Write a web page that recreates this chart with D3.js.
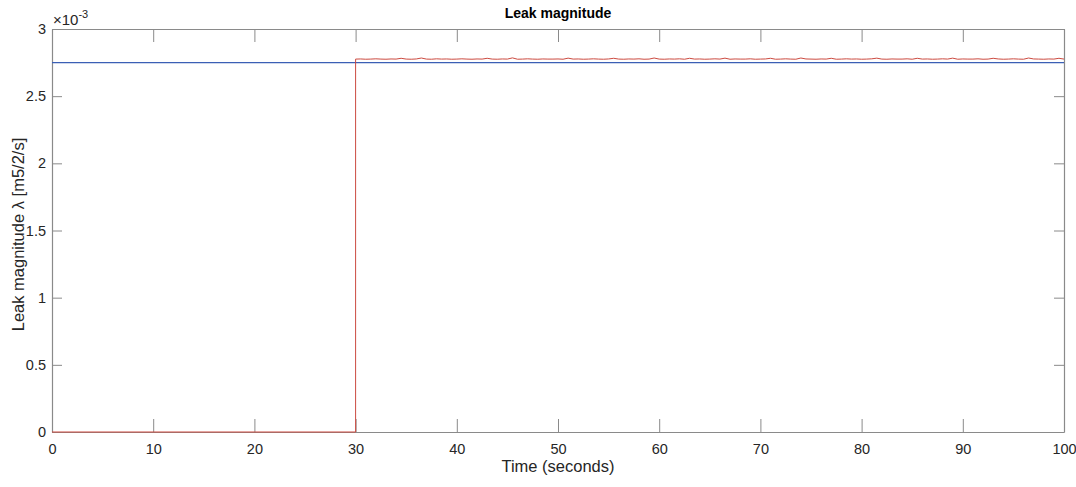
<!DOCTYPE html>
<html>
<head>
<meta charset="utf-8">
<script src="https://cdn.jsdelivr.net/npm/d3@7"></script>
<style>
  html, body { margin: 0; padding: 0; background: #fff; }
  svg { display: block; font-family: "Liberation Sans", Arial, sans-serif; }
</style>
</head>
<body>
<svg id="chart" width="1076" height="487"></svg>
<script>
// Axis ranges and tick labels
const xTicks = [0, 10, 20, 30, 40, 50, 60, 70, 80, 90, 100];
const yTicks = [0, 0.5, 1, 1.5, 2, 2.5, 3];          // in units of 1e-3
const yTickLabels = ["0", "0.5", "1", "1.5", "2", "2.5", "3"];

// True leak magnitude (constant reference), ×1e-3
const trueTime = [0, 100];
const trueValue = [2.75, 2.75];

// Estimated leak magnitude: zero until the leak starts at t = 30 s
const estStartTime = [0, 30];
const estStartValue = [0, 0];
// Estimate after the leak onset, sampled every 0.5 s from 30 s to 100 s, ×1e-3
const estStep = 0.5;
const estValues = [
  2.776,2.777,2.775,2.776,2.778,2.776,2.775,2.777,2.776,2.782,2.776,2.775,2.777,2.784,2.776,2.775,2.778,2.776,2.777,2.775,
  2.776,2.778,2.776,2.775,2.777,2.776,2.782,2.776,2.775,2.777,2.776,2.785,2.775,2.776,2.778,2.776,2.775,2.777,2.776,2.776,
  2.777,2.775,2.783,2.776,2.777,2.775,2.776,2.778,2.776,2.775,2.777,2.782,2.776,2.775,2.777,2.776,2.778,2.775,2.776,2.784,
  2.776,2.775,2.777,2.776,2.778,2.775,2.782,2.776,2.777,2.775,2.776,2.778,2.776,2.783,2.775,2.777,2.776,2.776,2.778,2.775,
  2.776,2.777,2.782,2.775,2.776,2.778,2.776,2.775,2.784,2.777,2.776,2.775,2.777,2.776,2.782,2.775,2.776,2.778,2.776,2.777,
  2.775,2.776,2.778,2.783,2.776,2.775,2.777,2.776,2.776,2.778,2.775,2.782,2.776,2.777,2.775,2.776,2.778,2.776,2.783,2.775,
  2.777,2.776,2.776,2.778,2.775,2.776,2.782,2.777,2.775,2.776,2.778,2.776,2.775,2.784,2.777,2.776,2.775,2.777,2.776,2.782,
  2.776
];

const svg = d3.select("#chart");
const W = 1076, H = 487;
const m = { left: 52, right: 12, top: 29, bottom: 55 };
const pw = W - m.left - m.right, ph = H - m.top - m.bottom;

svg.append("rect").attr("width", W).attr("height", H).attr("fill", "#fff");

const x = d3.scaleLinear().domain([0, 100]).range([0, pw]);
const y = d3.scaleLinear().domain([0, 3]).range([ph, 0]);

const g = svg.append("g").attr("transform", `translate(${m.left},${m.top})`);

// Axes (box with inward ticks on all four sides)
const axisColor = "#8a8a8a";
const textColor = "#262626";
const tickFont = "14.5px";

function styleAxis(sel) {
  sel.attr("font-size", null).attr("font-family", null);
  sel.select(".domain").attr("stroke", axisColor).attr("stroke-width", 1.2);
  sel.selectAll(".tick line").attr("stroke", axisColor).attr("stroke-width", 1);
  sel.selectAll(".tick text").attr("fill", textColor).style("font-size", tickFont);
}

const xBottom = g.append("g").attr("transform", `translate(0,${ph})`)
  .call(d3.axisBottom(x).tickValues(xTicks).tickSizeInner(-13).tickSizeOuter(0).tickPadding(12).tickFormat(d3.format("d")));
styleAxis(xBottom);

const xTop = g.append("g")
  .call(d3.axisTop(x).tickValues(xTicks).tickSizeInner(-13).tickSizeOuter(0).tickFormat(""));
styleAxis(xTop);

const yLeft = g.append("g")
  .call(d3.axisLeft(y).tickValues(yTicks).tickSizeInner(-10).tickSizeOuter(0).tickPadding(6)
    .tickFormat((d, i) => yTickLabels[i]));
styleAxis(yLeft);

const yRight = g.append("g").attr("transform", `translate(${pw},0)`)
  .call(d3.axisRight(y).tickValues(yTicks).tickSizeInner(-10).tickSizeOuter(0).tickFormat(""));
styleAxis(yRight);

// Data lines, drawn above the axes
const line = d3.line().x(d => x(d[0])).y(d => y(d[1]));

const truePts = trueTime.map((t, i) => [t, trueValue[i]]);
const estPts = estStartTime.map((t, i) => [t, estStartValue[i]])
  .concat(estValues.map((v, i) => [30 + i * estStep, v]));

g.append("path").datum(truePts).attr("d", line)
  .attr("fill", "none").attr("stroke", "#3b5fb5").attr("stroke-width", 1.1);
g.append("path").datum(estPts).attr("d", line)
  .attr("fill", "none").attr("stroke", "#cc4a40").attr("stroke-width", 1)
  .attr("stroke-linejoin", "miter");

// Exponent multiplier
const expo = svg.append("text").attr("x", m.left + 1).attr("y", m.top - 4)
  .attr("fill", textColor).style("font-size", "15px");
expo.append("tspan").text("×10");
expo.append("tspan").attr("dy", -7).style("font-size", "11px").text("-3");

// Title
svg.append("text").attr("x", m.left + pw / 2).attr("y", 18)
  .attr("text-anchor", "middle").attr("fill", "#000")
  .style("font-size", "14px").style("font-weight", "bold").text("Leak magnitude");

// Axis labels
svg.append("text").attr("x", m.left + pw / 2).attr("y", 472)
  .attr("text-anchor", "middle").attr("fill", textColor)
  .style("font-size", "16.5px").text("Time (seconds)");

svg.append("text")
  .attr("transform", `translate(24,${m.top + ph / 2 + 4}) rotate(-90)`)
  .attr("text-anchor", "middle").attr("fill", textColor)
  .style("font-size", "16.5px").text("Leak magnitude λ [m5/2/s]");
</script>
</body>
</html>
